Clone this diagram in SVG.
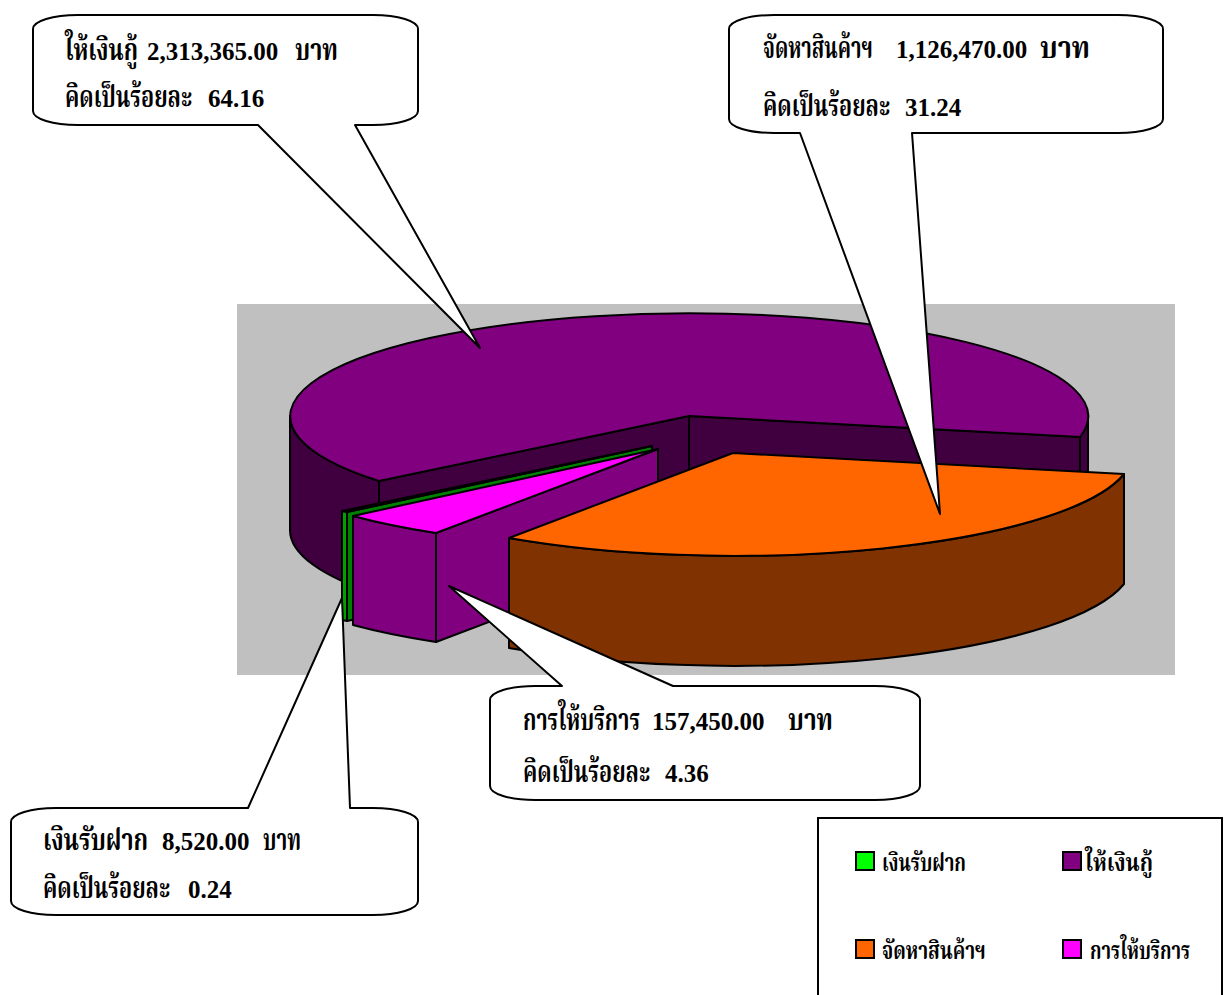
<svg xmlns="http://www.w3.org/2000/svg" width="1226" height="995" viewBox="0 0 1226 995">
<style>
.e{stroke:#000;stroke-width:2;stroke-linejoin:round}
.co{fill:#fff;stroke:#000;stroke-width:2;stroke-linejoin:round}
.n{font-family:'Liberation Serif',serif;font-weight:bold;font-size:25px;fill:#000}
.th{font-family:'Liberation Serif','Noto Serif Thai','Noto Sans Thai','Norasi','Loma','Garuda',serif;font-weight:bold;font-size:30px;fill:#000}
.lg{font-family:'Liberation Serif','Noto Serif Thai','Noto Sans Thai','Norasi','Loma','Garuda',serif;font-weight:bold;font-size:24px;fill:#000}
</style>
<rect width="1226" height="995" fill="#fff"/>
<rect id="plot-area" x="237" y="304" width="938" height="371" fill="#c0c0c0"/>
<g id="slice-loan">
<path class="e" fill="#400040" d="M379,481 A399,103 0 0,1 290,416 V530 A399,103 0 0,0 379,595 Z"/>
<path class="e" fill="#400040" d="M1088,416 A399,103 0 0,1 1080,437 V551 A399,103 0 0,0 1088,530 Z"/>
<path class="e" fill="#400040" d="M379,481 L689,416 V530 L379,595 Z"/>
<path class="e" fill="#400040" d="M689,416 L1080,437 V551 L689,530 Z"/>
<path class="e" fill="#800080" d="M689,416 L1080,437 A399,103 0 1,0 379,481 Z"/>
</g>
<g id="slice-deposit">
<path class="e" fill="#008000" d="M347,512 L652,446 V555 L347,621 Z"/>
<path class="e" fill="#00a000" d="M342,511 L347,512 V621 L342,620 Z"/>
<path class="e" fill="#00ff00" d="M652,446 L342,511 L347,512 Z"/>
</g>
<g id="slice-service">
<path class="e" fill="#800080" d="M436,533 L658,449 V558 L436,642 Z"/>
<path class="e" fill="#800080" d="M436,533 A399,103 0 0,1 353,516 V625 A399,103 0 0,0 436,642 Z"/>
<path class="e" fill="#ff00ff" d="M658,449 L436,533 A399,103 0 0,1 353,516 Z"/>
</g>
<g id="slice-goods">
<path class="e" fill="#803300" d="M1124,474 A399,103 0 0,1 509,538 V648 A399,103 0 0,0 1124,584 Z"/>
<path class="e" fill="#ff6600" d="M733,453 L1124,474 A399,103 0 0,1 509,538 Z"/>
</g>
<g id="callout-loan">
<path class="co" d="M78,15 H373 C398,15 418,21 418,29 V111 C418,119 398,125 373,125 H355 L480,348 L258,125 H78 C53,125 33,119 33,111 V29 C33,21 53,15 78,15 Z"/>
<text class="th" transform="translate(65,60) scale(0.777,1)" textLength="94" lengthAdjust="spacingAndGlyphs">ให้เงินกู้</text>
<text class="n" x="147" y="60">2,313,365.00</text>
<text class="th" transform="translate(295,60) scale(0.827,1)" textLength="52" lengthAdjust="spacingAndGlyphs">บาท</text>
<text class="th" transform="translate(65,107) scale(0.756,1)" textLength="168" lengthAdjust="spacingAndGlyphs">คิดเป็นร้อยละ</text>
<text class="n" x="208" y="107">64.16</text>
</g>
<g id="callout-goods">
<path class="co" d="M774,15 H1118 C1143,15 1163,21 1163,29 V119 C1163,127 1143,133 1118,133 H912 L940,514 L800,133 H774 C749,133 729,127 729,119 V29 C729,21 749,15 774,15 Z"/>
<text class="th" transform="translate(763,58) scale(0.84,1)" textLength="131" lengthAdjust="spacingAndGlyphs">จัดหาสินค้าฯ</text>
<text class="n" x="896" y="58">1,126,470.00</text>
<text class="th" transform="translate(1040,58) scale(0.962,1)" textLength="52" lengthAdjust="spacingAndGlyphs">บาท</text>
<text class="th" transform="translate(763,116) scale(0.756,1)" textLength="168" lengthAdjust="spacingAndGlyphs">คิดเป็นร้อยละ</text>
<text class="n" x="905" y="116">31.24</text>
</g>
<g id="callout-service">
<path class="co" d="M535,686 H562 L449,586 L673,686 H875 C900,686 920,692 920,700 V786 C920,794 900,800 875,800 H535 C510,800 490,794 490,786 V700 C490,692 510,686 535,686 Z"/>
<text class="th" transform="translate(523,730) scale(0.741,1)" textLength="158" lengthAdjust="spacingAndGlyphs">การให้บริการ</text>
<text class="n" x="652" y="730">157,450.00</text>
<text class="th" transform="translate(788,730) scale(0.865,1)" textLength="52" lengthAdjust="spacingAndGlyphs">บาท</text>
<text class="th" transform="translate(523,782) scale(0.756,1)" textLength="168" lengthAdjust="spacingAndGlyphs">คิดเป็นร้อยละ</text>
<text class="n" x="665" y="782">4.36</text>
</g>
<g id="callout-deposit">
<path class="co" d="M56,808 H248 L342,598 L350,808 H373 C398,808 418,814 418,822 V901 C418,909 398,915 373,915 H56 C31,915 11,909 11,901 V822 C11,814 31,808 56,808 Z"/>
<text class="th" transform="translate(43,850) scale(0.784,1)" textLength="134" lengthAdjust="spacingAndGlyphs">เงินรับฝาก</text>
<text class="n" x="162" y="850">8,520.00</text>
<text class="th" transform="translate(263,850) scale(0.73,1)" textLength="52" lengthAdjust="spacingAndGlyphs">บาท</text>
<text class="th" transform="translate(43,898) scale(0.756,1)" textLength="168" lengthAdjust="spacingAndGlyphs">คิดเป็นร้อยละ</text>
<text class="n" x="188" y="898">0.24</text>
</g>
<g id="legend">
<rect x="818" y="818" width="404" height="200" fill="#fff" stroke="#000" stroke-width="2"/>
<rect x="856" y="852" width="18" height="18" fill="#00ff00" stroke="#000" stroke-width="2"/>
<text class="lg" transform="translate(882,871) scale(0.778,1)" textLength="108" lengthAdjust="spacingAndGlyphs">เงินรับฝาก</text>
<rect x="1063" y="852" width="18" height="18" fill="#800080" stroke="#000" stroke-width="2"/>
<text class="lg" transform="translate(1085,871) scale(0.895,1)" textLength="76" lengthAdjust="spacingAndGlyphs">ให้เงินกู้</text>
<rect x="856" y="940" width="18" height="18" fill="#ff6600" stroke="#000" stroke-width="2"/>
<text class="lg" transform="translate(882,959) scale(0.8,1)" textLength="130" lengthAdjust="spacingAndGlyphs">จัดหาสินค้าฯ</text>
<rect x="1063" y="940" width="18" height="18" fill="#ff00ff" stroke="#000" stroke-width="2"/>
<text class="lg" transform="translate(1090,959) scale(0.77,1)" textLength="130" lengthAdjust="spacingAndGlyphs">การให้บริการ</text>
</g>
</svg>
